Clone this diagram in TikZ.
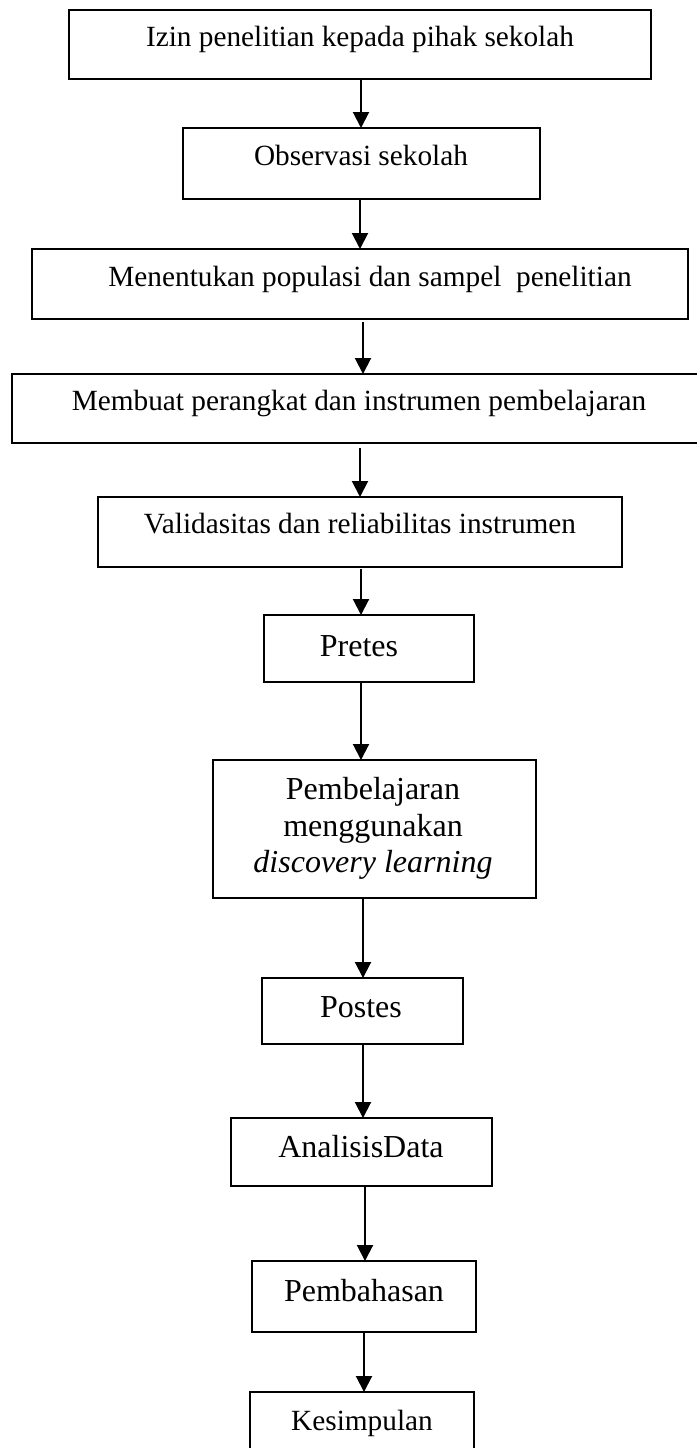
\documentclass[tikz,border=0pt]{standalone}
\usepackage{fontspec}
\setmainfont{Liberation Serif}
\usetikzlibrary{arrows.meta,fit}
\begin{document}
\begin{tikzpicture}[x=0.5pt,y=-0.5pt,
  box/.style={draw,line width=1pt,inner sep=0pt,outer sep=0pt,rectangle},
  txt/.style={inner sep=0pt,anchor=base,font=\fontsize{14.65}{17}\selectfont},
  bigtxt/.style={inner sep=0pt,anchor=base,font=\fontsize{16}{18.75}\selectfont},
  arr/.style={line width=1pt,-{Triangle[width=8pt,length=8pt]}}]
\useasboundingbox (0,0) rectangle (697,1448);
\clip (0,0) rectangle (697,1448);
% spine coordinates for connectors
\coordinate (s360) at (360,0);
\coordinate (s361) at (361,0);
\coordinate (s363) at (363,0);
\coordinate (s364) at (364,0);
\coordinate (s365) at (365,0);
% boxes
\node[box,fit={(69,10) (651,79)}] (b1) {};
\node[box,fit={(183,128) (540,199)}] (b2) {};
\node[box,fit={(32,249) (688,319)}] (b3) {};
\node[box,fit={(12,374) (712,443)}] (b4) {};
\node[box,fit={(98,497) (622,567)}] (b5) {};
\node[box,fit={(264,615) (474,682)}] (b6) {};
\node[box,fit={(213,760) (536,898)}] (b7) {};
\node[box,fit={(262,978) (463,1044)}] (b8) {};
\node[box,fit={(231,1118) (492,1186)}] (b9) {};
\node[box,fit={(252,1261) (476,1332)}] (b10) {};
\node[box,fit={(250,1392) (474,1475)}] (b11) {};
% texts
\node[txt] (t1) at (360,46.7) {Izin penelitian kepada pihak sekolah};
\node[txt] (t2) at (361,165.7) {Observasi sekolah};
\node[txt] (t3) at (370,286.7) {Menentukan populasi dan sampel\ \ penelitian};
\node[txt] (t4) at (359,410.7) {Membuat perangkat dan instrumen pembelajaran};
\node[txt] (t5) at (360,533.3) {Validasitas dan reliabilitas instrumen};
\node[bigtxt] (t6) at (359,656) {Pretes};
\node[bigtxt] (t7a) at (373,799.3) {Pembelajaran};
\node[bigtxt] (t7b) at (373,836.7) {menggunakan};
\node[bigtxt] (t7c) at (373,872.7) {\itshape discovery learning};
\node[bigtxt] (t8) at (361,1017.7) {Postes};
\node[bigtxt] (t9) at (361,1157.7) {AnalisisData};
\node[bigtxt] (t10) at (364,1301.7) {Pembahasan};
\node[txt] (t11) at (362,1430.7) {Kesimpulan};
% connectors
\draw[arr] (b1.south -| s361) -- (b2.north -| s361);
\draw[arr] (b2.south -| s360) -- (b3.north -| s360);
\draw[arr,shorten <=1.5pt] (b3.south -| s363) -- (b4.north -| s363);
\draw[arr,shorten <=2.5pt] (b4.south -| s360) -- (b5.north -| s360);
\draw[arr,shorten <=1pt] (b5.south -| s361) -- (b6.north -| s361);
\draw[arr] (b6.south -| s361) -- (b7.north -| s361);
\draw[arr] (b7.south -| s363) -- (b8.north -| s363);
\draw[arr] (b8.south -| s363) -- (b9.north -| s363);
\draw[arr] (b9.south -| s365) -- (b10.north -| s365);
\draw[arr] (b10.south -| s364) -- (b11.north -| s364);
\end{tikzpicture}
\end{document}
